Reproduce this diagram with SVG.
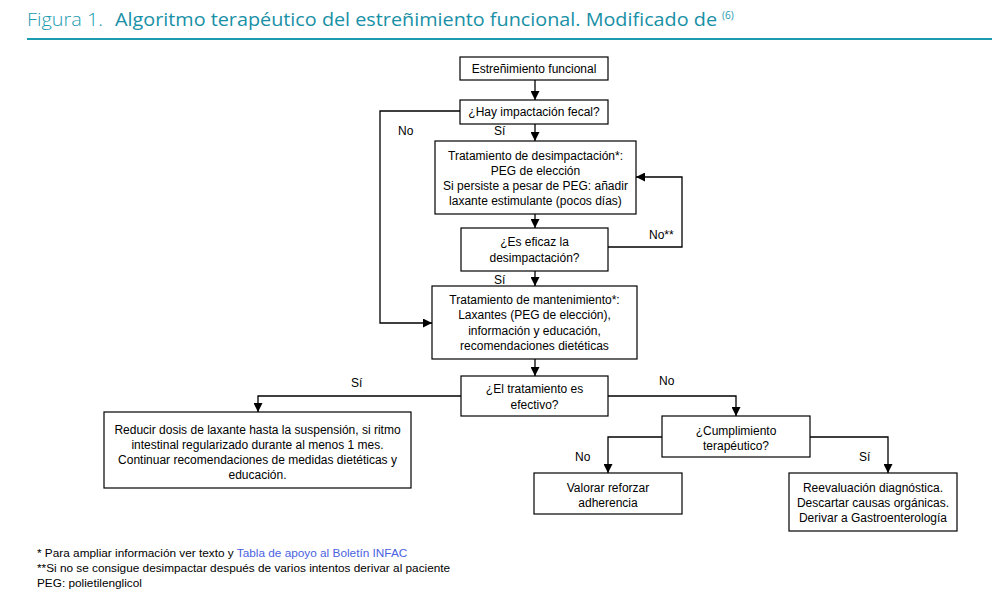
<svg xmlns="http://www.w3.org/2000/svg" width="1002" height="595" viewBox="0 0 1002 595">
<style>
.bx{fill:#fff;stroke:#000;stroke-width:1.2}
.t{font-family:"Liberation Sans",Arial,sans-serif;font-size:12px;fill:#000;text-anchor:middle}
.l{font-family:"Liberation Sans",Arial,sans-serif;font-size:12px;fill:#000}
.c{fill:none;stroke:#000;stroke-width:1.3}
.ttl{font-family:"Open Sans",Lato,sans-serif;font-size:18px;fill:#1a9bb0}
.sup{font-family:"Open Sans",Lato,sans-serif;font-size:10px;fill:#1a9bb0}
.ft{font-family:"Liberation Sans",Arial,sans-serif;font-size:11.8px;fill:#000}
</style>
<defs>
<marker id="ah" markerUnits="userSpaceOnUse" markerWidth="9" markerHeight="9" viewBox="0 0 10 10" refX="10" refY="5" orient="auto">
<path d="M0,0 L10,5 L0,10 z" fill="#000"/>
</marker>
</defs>
<rect width="1002" height="595" fill="#fff"/>
<g id="title">
<text class="ttl" x="27" y="26" font-weight="300" textLength="76" lengthAdjust="spacingAndGlyphs">Figura 1.</text>
<text class="ttl" x="115" y="26" style="fill:#1890a6" textLength="602" lengthAdjust="spacingAndGlyphs">Algoritmo terapéutico del estreñimiento funcional. Modificado de</text>
<text class="sup" x="722" y="19">(6)</text>
<line x1="27" y1="39" x2="992" y2="39" stroke="#1a9bb0" stroke-width="2.2"/>
</g>
<g id="connectors">
<path class="c" d="M535,80 V100" marker-end="url(#ah)"/>
<path class="c" d="M535,124 V141" marker-end="url(#ah)"/>
<path class="c" d="M535,214 V228" marker-end="url(#ah)"/>
<path class="c" d="M608,247 H682 V177 H636" marker-end="url(#ah)"/>
<path class="c" d="M535,271 V286" marker-end="url(#ah)"/>
<path class="c" d="M460,111 H380 V323 H432" marker-end="url(#ah)"/>
<path class="c" d="M535,359 V376" marker-end="url(#ah)"/>
<path class="c" d="M461,396 H258 V412" marker-end="url(#ah)"/>
<path class="c" d="M608,396 H736 V416" marker-end="url(#ah)"/>
<path class="c" d="M662,437 H608 V473" marker-end="url(#ah)"/>
<path class="c" d="M810,437 H888 V473" marker-end="url(#ah)"/>
<text class="l" x="398" y="135">No</text>
<text class="l" x="494" y="135">Sí</text>
<text class="l" x="649" y="239">No**</text>
<text class="l" x="494" y="284">Sí</text>
<text class="l" x="351" y="387">Sí</text>
<text class="l" x="659" y="385">No</text>
<text class="l" x="575" y="461">No</text>
<text class="l" x="859" y="461">Sí</text>
</g>
<g id="n1"><rect class="bx" x="460" y="57" width="148" height="23"/><text class="t" x="534" y="73">Estreñimiento funcional</text></g>
<g id="n2"><rect class="bx" x="460" y="100" width="148" height="24"/><text class="t" x="534" y="116">¿Hay impactación fecal?</text></g>
<g id="n3"><rect class="bx" x="435" y="141" width="201" height="73"/>
<text class="t" x="535.5" y="160">Tratamiento de desimpactación*:</text>
<text class="t" x="535.5" y="175">PEG de elección</text>
<text class="t" x="535.5" y="190">Si persiste a pesar de PEG: añadir</text>
<text class="t" x="535.5" y="205">laxante estimulante (pocos días)</text></g>
<g id="n4"><rect class="bx" x="461" y="228" width="147" height="43"/>
<text class="t" x="534.5" y="246">¿Es eficaz la</text>
<text class="t" x="534.5" y="262">desimpactación?</text></g>
<g id="n5"><rect class="bx" x="432" y="286" width="205" height="73"/>
<text class="t" x="534.5" y="304">Tratamiento de mantenimiento*:</text>
<text class="t" x="534.5" y="319">Laxantes (PEG de elección),</text>
<text class="t" x="534.5" y="335">información y educación,</text>
<text class="t" x="534.5" y="350">recomendaciones dietéticas</text></g>
<g id="n6"><rect class="bx" x="461" y="376" width="147" height="40"/>
<text class="t" x="534.5" y="393">¿El tratamiento es</text>
<text class="t" x="534.5" y="409">efectivo?</text></g>
<g id="n7"><rect class="bx" x="104" y="412" width="307" height="76"/>
<text class="t" x="257.5" y="434">Reducir dosis de laxante hasta la suspensión, si ritmo</text>
<text class="t" x="257.5" y="449">intestinal regularizado durante al menos 1 mes.</text>
<text class="t" x="257.5" y="464">Continuar recomendaciones de medidas dietéticas y</text>
<text class="t" x="257.5" y="479">educación.</text></g>
<g id="n8"><rect class="bx" x="662" y="416" width="148" height="41"/>
<text class="t" x="736" y="435">¿Cumplimiento</text>
<text class="t" x="736" y="450">terapéutico?</text></g>
<g id="n9"><rect class="bx" x="534" y="473" width="148" height="41"/>
<text class="t" x="608" y="492">Valorar reforzar</text>
<text class="t" x="608" y="507">adherencia</text></g>
<g id="n10"><rect class="bx" x="789" y="473" width="168" height="58"/>
<text class="t" x="873" y="492">Reevaluación diagnóstica.</text>
<text class="t" x="873" y="507">Descartar causas orgánicas.</text>
<text class="t" x="873" y="522">Derivar a Gastroenterología</text></g>
<g id="footer">
<text class="ft" x="37" y="557">* Para ampliar información ver texto y <tspan fill="#4a62e0">Tabla de apoyo al Boletín INFAC</tspan></text>
<text class="ft" x="37" y="572">**Si no se consigue desimpactar después de varios intentos derivar al paciente</text>
<text class="ft" x="37" y="587">PEG: polietilenglicol</text>
</g>
</svg>
